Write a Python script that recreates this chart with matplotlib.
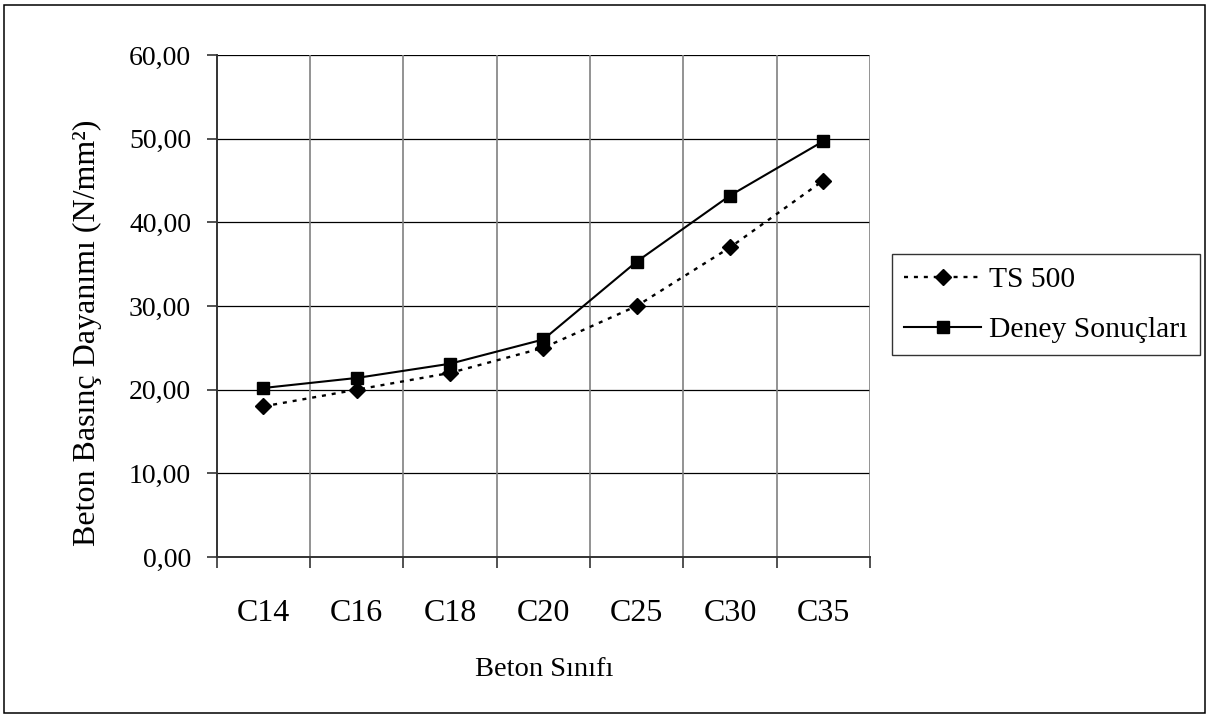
import matplotlib
matplotlib.use("Agg")
import matplotlib.pyplot as plt
from matplotlib.patches import Rectangle
from matplotlib.ticker import FixedLocator, NullFormatter, FixedFormatter

categories = ["C14", "C16", "C18", "C20", "C25", "C30", "C35"]
ts500 = [18.0, 20.0, 22.0, 25.0, 30.0, 37.0, 45.0]
deney = [20.2, 21.4, 23.1, 26.0, 35.3, 43.2, 49.7]
y_ticks = [0, 10, 20, 30, 40, 50, 60]
y_tick_labels = ["0,00", "10,00", "20,00", "30,00", "40,00", "50,00", "60,00"]

plt.rcParams['font.family'] = ['Liberation Serif', 'DejaVu Serif']

W, H = 1207, 718
fig = plt.figure(figsize=(W / 100, H / 100), dpi=100)
fig.patches.append(Rectangle((4 / W, 5 / H), (1205 - 4) / W, (713 - 5) / H,
                             transform=fig.transFigure, fill=False,
                             edgecolor="black", linewidth=1.1))

ax = fig.add_axes([216.7 / W, 1 - 557 / H, (870 - 216.7) / W, (557 - 55) / H])
x = list(range(len(categories)))
n = len(categories)

ax.set_xlim(-0.5, n - 0.5)
ax.set_ylim(0, 60)

# gridlines
for yv in y_ticks[1:]:
    ax.axhline(yv, color="black", linewidth=0.9, zorder=1)
for b in range(1, n + 1):
    ax.axvline(b - 0.5, color="#808080", linewidth=1.2, zorder=1)

ax.plot(x, ts500, linestyle=(0, (1.7, 2.5)), color="black", linewidth=1.7,
        marker="D", markersize=8, label="TS 500", zorder=3)
ax.plot(x, deney, linestyle="-", color="black", linewidth=1.5,
        marker="s", markersize=8.3, label="Deney Sonuçları", zorder=3)

for s in ["top", "right"]:
    ax.spines[s].set_visible(False)
for s in ["left", "bottom"]:
    ax.spines[s].set_color("#333333")
    ax.spines[s].set_linewidth(1.4)

ax.xaxis.set_major_locator(FixedLocator([b - 0.5 for b in range(n + 1)]))
ax.xaxis.set_major_formatter(NullFormatter())
ax.xaxis.set_minor_locator(FixedLocator(x))
ax.xaxis.set_minor_formatter(FixedFormatter(categories))
ax.tick_params(axis="x", which="major", direction="out", length=8, width=1.2, color="#333333")
ax.tick_params(axis="x", which="minor", length=0, pad=30, labelsize=23)

ax.yaxis.set_major_locator(FixedLocator(y_ticks))
ax.yaxis.set_major_formatter(FixedFormatter(y_tick_labels))
ax.tick_params(axis="y", direction="out", length=7.5, width=1.2, color="#333333",
               labelsize=20, pad=11)

fig.text(543.8 / W, 1 - 676 / H, "Beton Sınıfı", fontsize=20.5,
         ha="center", va="baseline")
fig.text(87 / W, 1 - 333 / H, "Beton Basınç Dayanımı (N/mm²)", fontsize=23,
         rotation=90, ha="center", va="center")

leg = ax.legend(loc="upper left", bbox_to_anchor=(892 / W, 1 - 254 / H),
                bbox_transform=fig.transFigure, fontsize=21.3, frameon=True, fancybox=False,
                edgecolor="black", borderpad=0.42, handlelength=2.6, handletextpad=0.25,
                labelspacing=0.78, borderaxespad=0)
leg.get_frame().set_linewidth(1.0)

fig.savefig("out.png", dpi=100)
